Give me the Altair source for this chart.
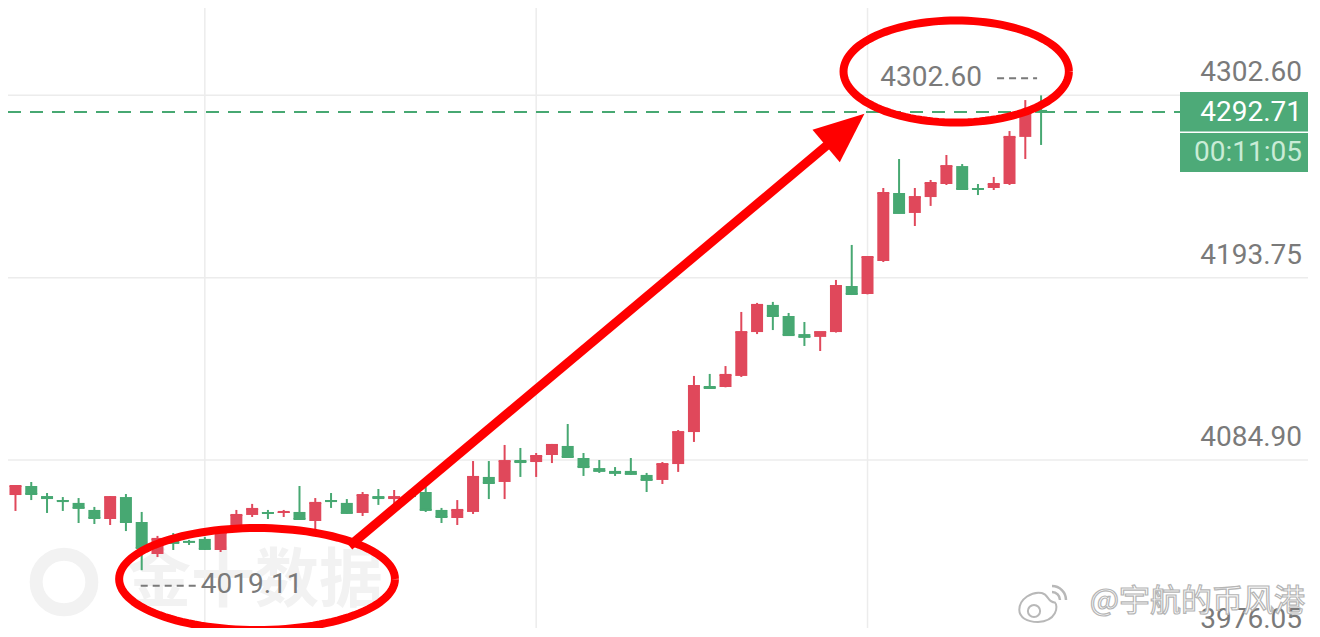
import altair as alt
import numpy as np
import pandas as pd

# ---------------- data ----------------
idx = list(range(66))
opens = [4064.0, 4069.4, 4063.4, 4061.0, 4059.3, 4055.1, 4049.7, 4062.8, 4047.9, 4028.8,
         4037.2, 4036.6, 4037.8, 4031.2, 4044.9, 4052.1, 4053.9, 4053.3, 4053.9, 4048.5,
         4061.0, 4059.3, 4053.3, 4063.4, 4061.6, 4064.6, 4065.8, 4055.1, 4050.3, 4053.9,
         4074.8, 4071.8, 4084.9, 4083.7, 4087.9, 4093.3, 4086.1, 4080.1, 4078.4, 4078.4,
         4076.0, 4073.0, 4082.5, 4101.6, 4129.1, 4128.5, 4135.1, 4161.3, 4177.5, 4170.9,
         4160.1, 4158.4, 4161.3, 4188.8, 4184.0, 4203.7, 4244.3, 4232.4, 4241.9, 4249.7,
         4260.4, 4247.3, 4247.3, 4249.7, 4277.8, 4293.9]
highs = [4070.0, 4071.8, 4065.2, 4062.8, 4062.2, 4056.9, 4063.4, 4064.6, 4053.9, 4039.6,
         4041.3, 4037.2, 4039.0, 4044.9, 4055.1, 4058.7, 4055.1, 4055.1, 4069.4, 4062.2,
         4065.2, 4061.6, 4065.8, 4067.6, 4067.0, 4066.4, 4068.8, 4056.3, 4061.0, 4084.3,
         4084.3, 4093.9, 4092.1, 4089.1, 4094.5, 4106.4, 4089.1, 4084.9, 4080.7, 4086.1,
         4077.2, 4083.7, 4102.8, 4135.1, 4136.3, 4141.0, 4173.3, 4178.7, 4179.3, 4172.7,
         4167.3, 4161.3, 4192.4, 4213.3, 4206.7, 4247.3, 4264.6, 4247.3, 4252.1, 4267.0,
         4261.6, 4249.7, 4253.9, 4281.3, 4299.8, 4302.60]
lows = [4054.5, 4061.0, 4053.3, 4054.5, 4047.3, 4046.7, 4046.1, 4042.5, 4019.11, 4027.0,
        4031.2, 4034.2, 4031.2, 4030.0, 4041.9, 4050.9, 4049.7, 4050.9, 4049.1, 4043.1,
        4056.3, 4052.7, 4051.5, 4058.1, 4058.7, 4061.0, 4053.9, 4047.3, 4046.1, 4052.7,
        4061.6, 4061.6, 4074.8, 4074.8, 4083.1, 4086.5, 4075.4, 4077.2, 4075.4, 4076.0,
        4065.8, 4070.6, 4077.8, 4095.7, 4127.3, 4128.3, 4134.5, 4160.1, 4162.5, 4159.0,
        4153.0, 4150.0, 4161.0, 4183.4, 4183.8, 4203.1, 4232.2, 4224.6, 4236.6, 4249.1,
        4246.5, 4243.1, 4246.1, 4249.1, 4264.6, 4273.0]
closes = [4069.4, 4064.6, 4062.2, 4060.4, 4056.3, 4050.3, 4062.8, 4047.9, 4032.4, 4037.8,
          4035.4, 4036.0, 4031.8, 4041.3, 4052.1, 4055.7, 4053.3, 4053.9, 4049.7, 4059.3,
          4060.4, 4053.3, 4064.0, 4062.2, 4062.8, 4063.4, 4055.1, 4050.9, 4055.1, 4074.8,
          4071.2, 4084.3, 4083.7, 4087.3, 4093.9, 4086.7, 4080.7, 4078.4, 4077.2, 4076.6,
          4073.0, 4082.5, 4101.6, 4129.1, 4127.9, 4135.7, 4161.3, 4177.5, 4170.9, 4159.5,
          4158.4, 4161.3, 4188.8, 4184.0, 4206.1, 4244.3, 4232.4, 4241.9, 4250.3, 4260.4,
          4246.7, 4246.7, 4249.7, 4277.8, 4292.1, 4292.71]

axis_prices = [4302.60, 4193.75, 4084.90, 3976.05]
axis_labels = ["4302.60", "4193.75", "4084.90", "3976.05"]
grid_candles = [12, 33, 54]
current_price = 4292.71
current_label = "4292.71"
timer_label = "00:11:05"
max_label = "4302.60"
min_label = "4019.11"
max_candle, min_candle = 65, 8

# annotation overlay (hand-drawn red marks), in data units
ell_names = ["top", "bottom"]
ell_cx = [59.62, 15.31]
ell_cy = [4316.85, 4013.85]
ell_rx = [7.14, 8.74]
ell_ry = [30.45, 30.45]
arrow_from = (21.16, 4033.6)
arrow_head = (52.47, 4281.0)

# ---------------- styles ----------------
RED = "#e0485b"
GREEN = "#47a872"
BOX = "#4daa78"
GRID = "#ececec"
LABEL = "#7a7a7a"
WM = "#f2f2f2"
W, H = 1300, 620

xs = alt.Scale(domain=[-0.157, 81.6], nice=False, zero=False)
ys = alt.Scale(domain=[3984.62, 4354.76], nice=False, zero=False)


def X(f):
    return alt.X(f, type="quantitative", scale=xs, axis=None)


def Y(f):
    return alt.Y(f, type="quantitative", scale=ys, axis=None)


df = pd.DataFrame({"i": idx, "o": opens, "h": highs, "l": lows, "c": closes})
df["dir"] = np.where(df["c"] >= df["o"], "up", "down")
color = alt.Color("dir:N", scale=alt.Scale(domain=["up", "down"], range=[RED, GREEN]), legend=None)

grid_h = alt.Chart(pd.DataFrame({"p": axis_prices})).mark_rule(color=GRID, strokeWidth=1.5).encode(y=Y("p"))
grid_v = alt.Chart(pd.DataFrame({"i": grid_candles})).mark_rule(color=GRID, strokeWidth=1.5).encode(x=X("i"))

one = pd.DataFrame({"a": [0]})
wm_ring = alt.Chart(one).mark_point(
    shape="circle", filled=False, size=3100, strokeWidth=13, color=WM, opacity=1
).encode(x=alt.value(56), y=alt.value(574))
wm_text = alt.Chart(pd.DataFrame({"t": ["金十数据"]})).mark_text(
    font="Noto Sans CJK SC", fontWeight="bold", fontSize=64, color=WM, align="center", baseline="middle"
).encode(x=alt.value(247), y=alt.value(574), text="t:N")

base = alt.Chart(df)
wicks = base.mark_rule(strokeWidth=2).encode(x=X("i"), y=Y("l"), y2="h", color=color)
bodies = base.mark_bar(size=12).encode(x=X("i"), y=Y("o"), y2="c", color=color)
ticks = base.mark_tick(orient="horizontal", size=12, thickness=2, opacity=1).encode(x=X("i"), y=Y("c"), color=color)

cur = pd.DataFrame({"p": [current_price], "t": [current_label], "tm": [timer_label]})
cur_line = alt.Chart(cur).mark_rule(color=GREEN, strokeWidth=2, strokeDash=[13, 9]).encode(
    y=Y("p"), x=alt.value(0), x2=alt.value(1172))

axis_df = pd.DataFrame({"p": axis_prices, "t": axis_labels})
axis_text = alt.Chart(axis_df).mark_text(
    align="right", baseline="middle", dy=-22, fontSize=28, font="Roboto", color=LABEL
).encode(x=alt.value(1294), y=Y("p"), text="t:N")

box1 = alt.Chart(cur).mark_rect(color=BOX).encode(
    x=alt.value(1172), x2=alt.value(1300), y=alt.value(84), y2=alt.value(123.5))
box2 = alt.Chart(cur).mark_rect(color=BOX).encode(
    x=alt.value(1172), x2=alt.value(1300), y=alt.value(125), y2=alt.value(164))
cur_text = alt.Chart(cur).mark_text(
    align="right", baseline="middle", fontSize=28, font="Roboto", color="white", dy=1
).encode(x=alt.value(1294), y=Y("p"), text="t:N")
tm_text = alt.Chart(cur).mark_text(
    align="right", baseline="middle", fontSize=28, font="Roboto", color="#c9ecd6"
).encode(x=alt.value(1294), y=alt.value(145), text="tm:N")

mx = pd.DataFrame({"i": [max_candle], "p": [highs[max_candle]], "t": [max_label]})
mn = pd.DataFrame({"i": [min_candle], "p": [lows[min_candle]], "t": [min_label]})
mx_text = alt.Chart(mx).mark_text(
    align="right", baseline="middle", dx=-59, dy=-17, fontSize=28, font="Roboto", color=LABEL
).encode(x=X("i"), y=Y("p"), text="t:N")
mx_dash = alt.Chart(mx).mark_rule(
    color=LABEL, strokeWidth=2, strokeDash=[7, 5], xOffset=-44, x2Offset=-4, yOffset=-17, y2Offset=-17
).encode(x=X("i"), x2="i", y=Y("p"), y2="p")
mn_text = alt.Chart(mn).mark_text(
    align="left", baseline="middle", dx=59, dy=15, fontSize=28, font="Roboto", color=LABEL
).encode(x=X("i"), y=Y("p"), text="t:N")
mn_dash = alt.Chart(mn).mark_rule(
    color=LABEL, strokeWidth=2, strokeDash=[7, 5], xOffset=-1, x2Offset=55, yOffset=15.5, y2Offset=15.5
).encode(x=X("i"), x2="i", y=Y("p"), y2="p")

# red hand-drawn ellipses & arrow
t = np.linspace(0, 2 * np.pi, 121)
rows = []
for n, cx, cy, rx, ry in zip(ell_names, ell_cx, ell_cy, ell_rx, ell_ry):
    for k, tt in enumerate(t):
        rows.append({"e": n, "k": k, "x": cx + rx * np.cos(tt), "y": cy + ry * np.sin(tt)})
ell = alt.Chart(pd.DataFrame(rows)).mark_line(color="#ff0000", strokeWidth=8).encode(
    x=X("x"), y=Y("y"), order="k:Q", detail="e:N")

arr = pd.DataFrame({"x": [arrow_from[0]], "y": [arrow_from[1]], "x2": [arrow_head[0]], "y2": [arrow_head[1]]})
arrow_line = alt.Chart(arr).mark_rule(color="#ff0000", strokeWidth=9).encode(
    x=X("x"), y=Y("y"), x2="x2", y2="y2")
arrow_tip = alt.Chart(arr).mark_point(
    shape="M0,-1.1L0.85,0.9L-0.85,0.9Z", filled=True, size=2500, angle=50, color="#ff0000", opacity=1
).encode(x=X("x2"), y=Y("y2"))

# weibo watermark (logo approximated)
wb_body = alt.Chart(one).mark_point(
    shape="M-1,0.1C-1,-0.5,-0.3,-0.9,0.2,-0.8C0.6,-0.7,0.5,-0.3,0.9,-0.3C1.1,-0.1,1,0.7,0,0.75C-0.6,0.75,-1,0.5,-1,0.1Z",
    filled=True, size=1400, fill="white", stroke="#b8b8b8", strokeWidth=2, opacity=1
).encode(x=alt.value(1030), y=alt.value(600))
wb_eye = alt.Chart(one).mark_point(
    shape="circle", filled=False, size=150, stroke="#b8b8b8", strokeWidth=2, opacity=1
).encode(x=alt.value(1026), y=alt.value(603))
wb_wave = alt.Chart(pd.DataFrame({"s": [256, 784]})).mark_point(
    shape="M0,-1A1,1,0,0,1,1,0", filled=False, stroke="#b8b8b8", strokeWidth=2.5, opacity=1
).encode(x=alt.value(1044), y=alt.value(592), size=alt.Size("s:Q", scale=None, legend=None))
wb_text = alt.Chart(pd.DataFrame({"t": ["@宇航的币风港"]})).mark_text(
    font="Noto Sans CJK SC", fontSize=31, fill="white", stroke="#b5b5b5", strokeWidth=1.2,
    align="right", baseline="middle"
).encode(x=alt.value(1297), y=alt.value(594), text="t:N")

chart = alt.layer(
    grid_h, grid_v, wm_ring, wm_text, wicks, bodies, ticks, cur_line, axis_text,
    box1, box2, cur_text, tm_text, mx_text, mx_dash, mn_text, mn_dash,
    ell, arrow_line, arrow_tip, wb_body, wb_eye, wb_wave, wb_text
).properties(
    width=W, height=H, padding=0, autosize=alt.AutoSizeParams(type="none")
).configure(background="white").configure_view(stroke=None)

chart.save("out.html", embed_options={"renderer": "svg", "actions": False})
